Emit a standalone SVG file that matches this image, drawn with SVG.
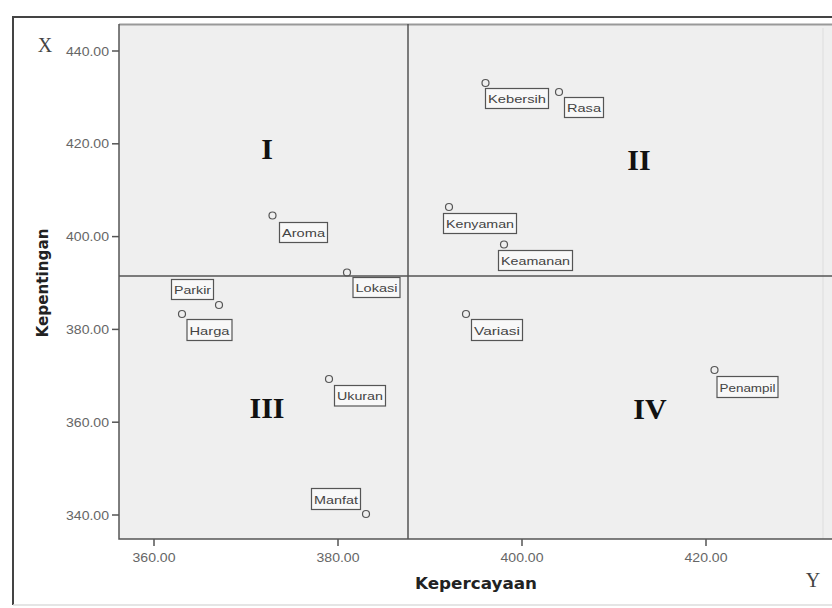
<svg xmlns="http://www.w3.org/2000/svg" width="832" height="608" viewBox="0 0 832 608">
<style>
.tick{font-family:"Liberation Sans",Arial,sans-serif;font-size:12px;fill:#666}
.lbl{font-family:"Liberation Sans",Arial,sans-serif;font-size:11.5px;fill:#444}
.box{fill:#f8f8f8;stroke:#555;stroke-width:1.2}
.pt{fill:none;stroke:#555;stroke-width:1.2}
.quad{font-family:"Liberation Serif","Times New Roman",serif;font-size:30px;font-weight:bold;fill:#111;text-anchor:middle}
.ax{font-family:"DejaVu Sans","Liberation Sans",sans-serif;font-size:15px;font-weight:bold;fill:#222}
.xy{font-family:"Liberation Serif","Times New Roman",serif;font-size:20px;fill:#444}
.ln{stroke:#555;stroke-width:1.5;fill:none}
</style>
<rect x="0" y="0" width="832" height="608" fill="#fff"/>
<!-- outer frame -->
<path d="M13,605 L13,17 L832,17" fill="none" stroke="#444" stroke-width="2"/>
<line x1="13" y1="605" x2="832" y2="605" stroke="#ddd" stroke-width="1.5"/>
<!-- plot area -->
<rect x="119" y="24" width="713" height="515" fill="#efefef"/>
<line x1="119" y1="24.5" x2="832" y2="24.5" stroke="#999" stroke-width="2"/>
<line x1="823" y1="28" x2="823" y2="539" stroke="#ddd" stroke-width="1"/>
<path class="ln" d="M119,24 L119,539 L832,539"/>
<g id="quadrant-lines">
<line class="ln" x1="408" y1="24" x2="408" y2="539"/>
<line class="ln" x1="119" y1="276" x2="832" y2="276"/>
</g>
<!-- y axis ticks -->
<g id="y-axis">
<line class="ln" x1="112" y1="51" x2="119" y2="51"/>
<line class="ln" x1="112" y1="143.8" x2="119" y2="143.8"/>
<line class="ln" x1="112" y1="236.6" x2="119" y2="236.6"/>
<line class="ln" x1="112" y1="329.4" x2="119" y2="329.4"/>
<line class="ln" x1="112" y1="422.2" x2="119" y2="422.2"/>
<line class="ln" x1="112" y1="515" x2="119" y2="515"/>
<text class="tick" x="109" y="55.5" text-anchor="end" textLength="43" lengthAdjust="spacingAndGlyphs">440.00</text>
<text class="tick" x="109" y="148.3" text-anchor="end" textLength="43" lengthAdjust="spacingAndGlyphs">420.00</text>
<text class="tick" x="109" y="241.1" text-anchor="end" textLength="43" lengthAdjust="spacingAndGlyphs">400.00</text>
<text class="tick" x="109" y="333.9" text-anchor="end" textLength="43" lengthAdjust="spacingAndGlyphs">380.00</text>
<text class="tick" x="109" y="426.7" text-anchor="end" textLength="43" lengthAdjust="spacingAndGlyphs">360.00</text>
<text class="tick" x="109" y="519.5" text-anchor="end" textLength="43" lengthAdjust="spacingAndGlyphs">340.00</text>
<text class="ax" transform="translate(47.5,283) rotate(-90)" text-anchor="middle" textLength="109" lengthAdjust="spacingAndGlyphs">Kepentingan</text>
<text class="xy" x="45" y="52" text-anchor="middle">X</text>
</g>
<!-- x axis ticks -->
<g id="x-axis">
<line class="ln" x1="154" y1="539" x2="154" y2="546"/>
<line class="ln" x1="338" y1="539" x2="338" y2="546"/>
<line class="ln" x1="522" y1="539" x2="522" y2="546"/>
<line class="ln" x1="706" y1="539" x2="706" y2="546"/>
<text class="tick" x="154" y="562" text-anchor="middle" textLength="43" lengthAdjust="spacingAndGlyphs">360.00</text>
<text class="tick" x="338" y="562" text-anchor="middle" textLength="43" lengthAdjust="spacingAndGlyphs">380.00</text>
<text class="tick" x="522" y="562" text-anchor="middle" textLength="43" lengthAdjust="spacingAndGlyphs">400.00</text>
<text class="tick" x="706" y="562" text-anchor="middle" textLength="43" lengthAdjust="spacingAndGlyphs">420.00</text>
<text class="ax" x="476" y="589" text-anchor="middle" textLength="122" lengthAdjust="spacingAndGlyphs">Kepercayaan</text>
<text class="xy" x="813" y="587" text-anchor="middle">Y</text>
</g>
<!-- quadrant labels -->
<g id="quadrant-labels">
<text class="quad" x="267" y="159">I</text>
<text class="quad" x="639" y="170">II</text>
<text class="quad" x="267" y="418">III</text>
<text class="quad" x="650" y="419">IV</text>
</g>
<!-- points -->
<g id="kebersih"><circle class="pt" cx="485.5" cy="83" r="3.5"/><rect class="box" x="485.5" y="88.5" width="63" height="20"/><text class="lbl" x="488" y="103" textLength="58" lengthAdjust="spacingAndGlyphs">Kebersih</text></g>
<g id="rasa"><circle class="pt" cx="559" cy="92" r="3.5"/><rect class="box" x="564.5" y="97.5" width="39" height="20"/><text class="lbl" x="567" y="112" textLength="34" lengthAdjust="spacingAndGlyphs">Rasa</text></g>
<g id="kenyaman"><circle class="pt" cx="449" cy="207" r="3.5"/><rect class="box" x="443.5" y="213.5" width="73" height="20"/><text class="lbl" x="446" y="228" textLength="68" lengthAdjust="spacingAndGlyphs">Kenyaman</text></g>
<g id="keamanan"><circle class="pt" cx="504" cy="244.5" r="3.5"/><rect class="box" x="498.5" y="250.5" width="74" height="20"/><text class="lbl" x="501" y="265" textLength="69" lengthAdjust="spacingAndGlyphs">Keamanan</text></g>
<g id="aroma"><circle class="pt" cx="272.5" cy="215.5" r="3.5"/><rect class="box" x="279.5" y="222.5" width="48" height="20"/><text class="lbl" x="282" y="237" textLength="43" lengthAdjust="spacingAndGlyphs">Aroma</text></g>
<g id="lokasi"><circle class="pt" cx="347" cy="272.5" r="3.5"/><rect class="box" x="353" y="277.5" width="47" height="20"/><text class="lbl" x="355.5" y="292" textLength="42" lengthAdjust="spacingAndGlyphs">Lokasi</text></g>
<g id="parkir"><circle class="pt" cx="219" cy="305" r="3.5"/><rect class="box" x="171.5" y="279.5" width="42" height="20"/><text class="lbl" x="174" y="294" textLength="37" lengthAdjust="spacingAndGlyphs">Parkir</text></g>
<g id="harga"><circle class="pt" cx="182" cy="314" r="3.5"/><rect class="box" x="187" y="319.5" width="45" height="21"/><text class="lbl" x="189.5" y="334.5" textLength="40" lengthAdjust="spacingAndGlyphs">Harga</text></g>
<g id="ukuran"><circle class="pt" cx="329" cy="379" r="3.5"/><rect class="box" x="334.5" y="385.5" width="51" height="20.5"/><text class="lbl" x="337" y="400" textLength="46" lengthAdjust="spacingAndGlyphs">Ukuran</text></g>
<g id="manfat"><circle class="pt" cx="366" cy="514" r="3.5"/><rect class="box" x="311.5" y="488.5" width="49" height="21"/><text class="lbl" x="314" y="503.5" textLength="44" lengthAdjust="spacingAndGlyphs">Manfat</text></g>
<g id="variasi"><circle class="pt" cx="466" cy="314" r="3.5"/><rect class="box" x="471.5" y="319.5" width="51" height="21"/><text class="lbl" x="474" y="334.5" textLength="46" lengthAdjust="spacingAndGlyphs">Variasi</text></g>
<g id="penampil"><circle class="pt" cx="714.5" cy="370" r="3.5"/><rect class="box" x="717" y="376.5" width="61" height="21"/><text class="lbl" x="719.5" y="391.5" textLength="56" lengthAdjust="spacingAndGlyphs">Penampil</text></g>
</svg>
